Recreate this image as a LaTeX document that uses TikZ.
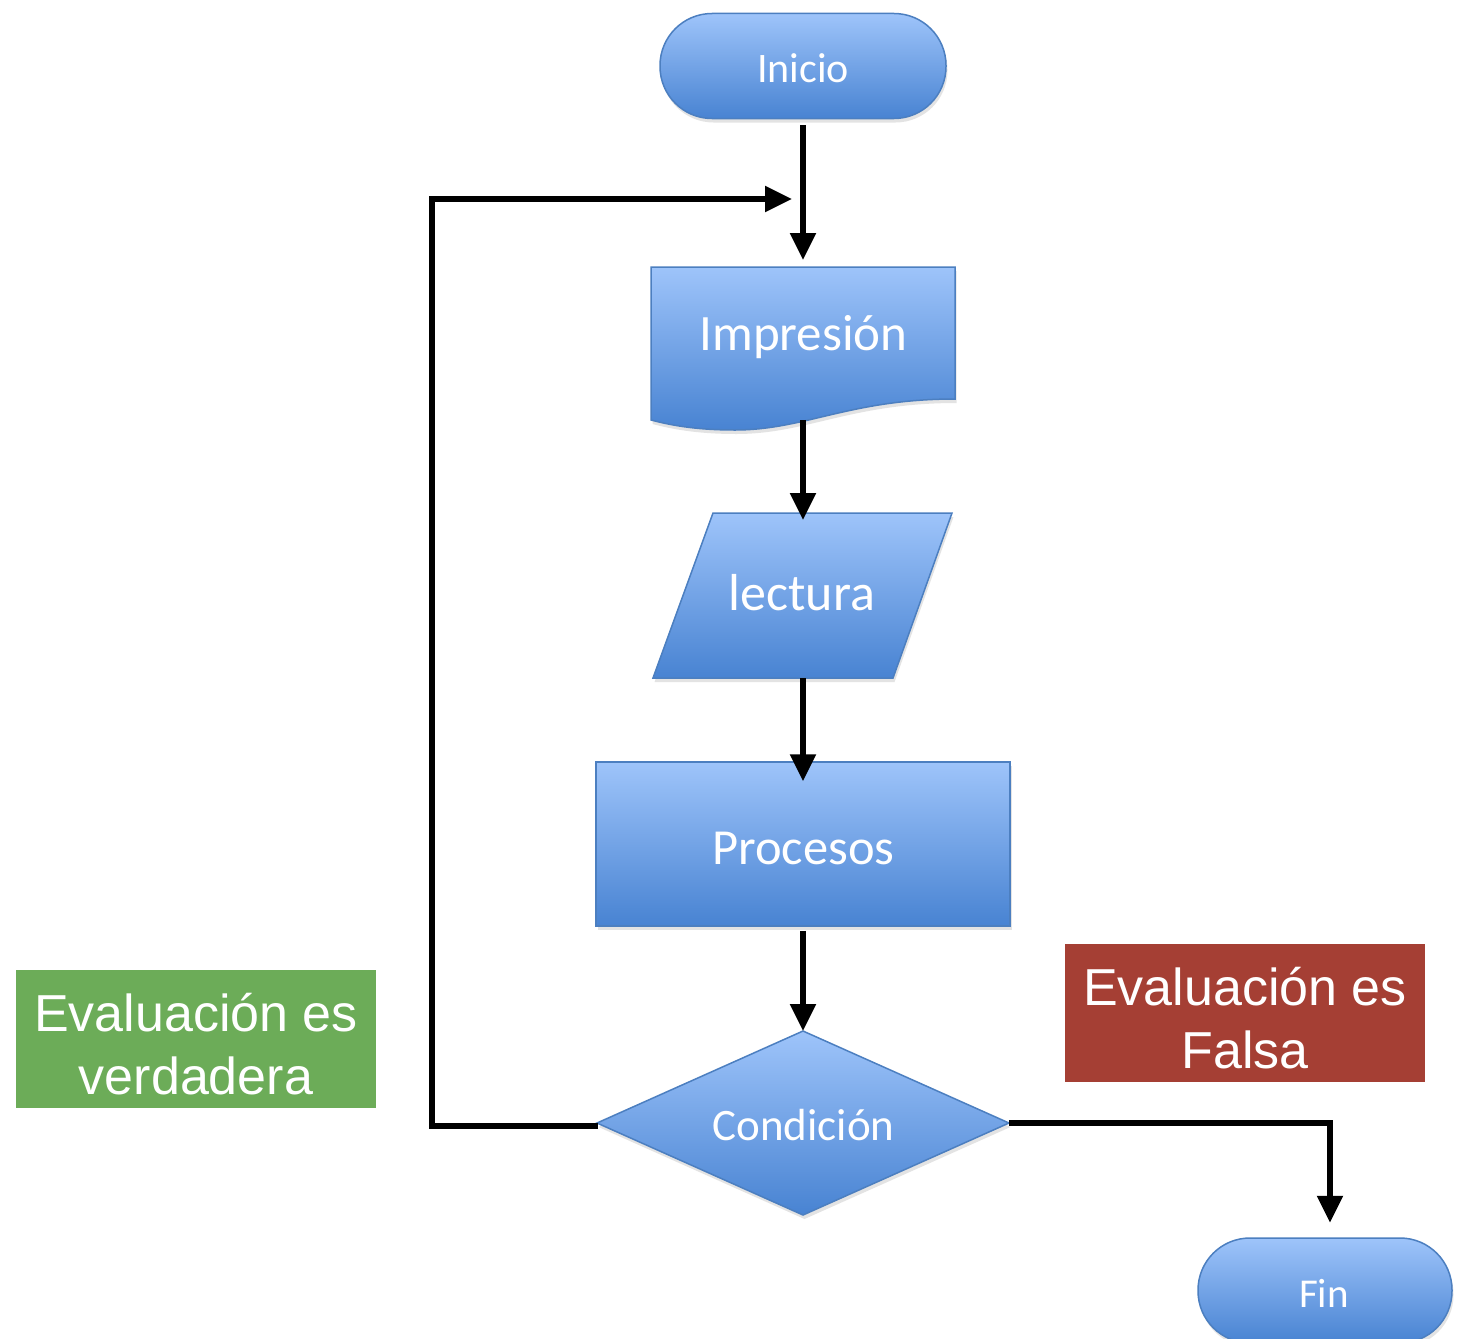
\documentclass[tikz,border=0pt]{standalone}
\usepackage{fontspec}
\setmainfont{Carlito}
\newfontfamily\arialf{Liberation Sans}
\usetikzlibrary{arrows.meta,shadows}
\definecolor{blueTop}{HTML}{9EC4FA}
\definecolor{blueBot}{HTML}{4883D2}
\definecolor{blueEdge}{HTML}{4C7FC0}
\definecolor{okgreen}{HTML}{6CAC58}
\definecolor{badred}{HTML}{A53F34}
\begin{document}
\begin{tikzpicture}[x=1pt,y=-1pt,
  flow/.style={shade, top color=blueTop, bottom color=blueBot, draw=blueEdge, line width=1.5pt,
    drop shadow={opacity=0.22, shadow xshift=1.5pt, shadow yshift=-4pt}},
  term/.style={flow, rectangle, rounded corners=52pt, inner sep=0pt},
  procbox/.style={flow, rectangle, inner sep=0pt},
  arr/.style={line width=5.5pt, -{Triangle[length=27pt,width=25pt]}},
  lbl/.style={text=white, inner sep=0pt, anchor=base},
  evalbox/.style={rectangle, inner sep=0pt, minimum width=360pt, minimum height=138pt},
  evaltxt/.style={text=white, inner sep=0pt, anchor=base, align=center,
    font={\arialf\fontsize{52pt}{63pt}\selectfont}}]
\useasboundingbox (0,0) rectangle (1463,1338);
\fill[white] (0,0) rectangle (1463,1338);

% Inicio
\node[term, minimum width=286pt, minimum height=105pt] (inicio) at (803,66) {};
\node[lbl, font={\fontsize{42pt}{50pt}\selectfont}] (tInicio) at (803,82) {Inicio};

% Impresion (document shape)
\coordinate (impT) at (803,267);
\coordinate (impB) at (803,420);
\path[flow] (651,267) -- (955,267) -- (955,399)
  .. controls (850,399) and (805,430) .. (735,430)
  .. controls (695,430) and (670,425) .. (651,420) -- cycle;
\node[lbl, font={\fontsize{51pt}{60pt}\selectfont}] (tImp) at (803.5,350) {Impresión};

% lectura (parallelogram)
\coordinate (lecT) at (803,513);
\coordinate (lecB) at (803,678);
\path[flow] (713,513) -- (952,513) -- (893,678) -- (653,678) -- cycle;
\node[lbl, font={\fontsize{52pt}{60pt}\selectfont}] (tLec) at (802,610) {lectura};

% Procesos
\node[procbox, minimum width=414pt, minimum height=164pt] (proc) at (803,844) {};
\node[lbl, font={\fontsize{50.5pt}{60pt}\selectfont}] (tProc) at (803.5,864) {Procesos};

% Condicion (diamond)
\coordinate (cT) at (803,1031);
\coordinate (cR) at (1009,1123);
\coordinate (cB) at (803,1215);
\coordinate (cL) at (598,1126);
\path[flow] (cT) -- (cR) -- (cB) -- (597,1123) -- cycle;
\node[lbl, font={\fontsize{45pt}{54pt}\selectfont}] (tCond) at (803.5,1140) {Condición};

% Fin (cut by the lower border)
\begin{scope}
  \clip (0,0) rectangle (1463,1338);
  \node[term, minimum width=254pt, minimum height=105pt] (fin) at (1325,1290.5) {};
\end{scope}
\node[lbl, font={\fontsize{41pt}{50pt}\selectfont}] (tFin) at (1324,1307) {Fin};

% label boxes
\node[evalbox, fill=okgreen] (verd) at (196,1039) {};
\node[evaltxt] (tVerd) at (196,1094) {Evaluación es\\verdadera};
\node[evalbox, fill=badred] (fals) at (1245,1013) {};
\node[evaltxt] (tFals) at (1245,1068) {Evaluación es\\Falsa};

% connectors
\coordinate (loopCorner) at (432,199);
\coordinate (loopEnd) at (792,199);
\coordinate (fTurn) at (1330,1123);
\draw[arr, shorten <=6pt, shorten >=7pt] (inicio.south) -- (impT);
\draw[arr, shorten >=-7pt] (impB) -- (lecT);
\draw[arr, shorten >=-20pt] (lecB) -- (proc.north);
\draw[arr, shorten <=4pt] (proc.south) -- (cT);
\draw[arr] (cL) -| (loopCorner) -- (loopEnd);
\draw[arr, shorten >=14.5pt] (cR) -- (fTurn) -- (fTurn |- fin.north);
\end{tikzpicture}
\end{document}
